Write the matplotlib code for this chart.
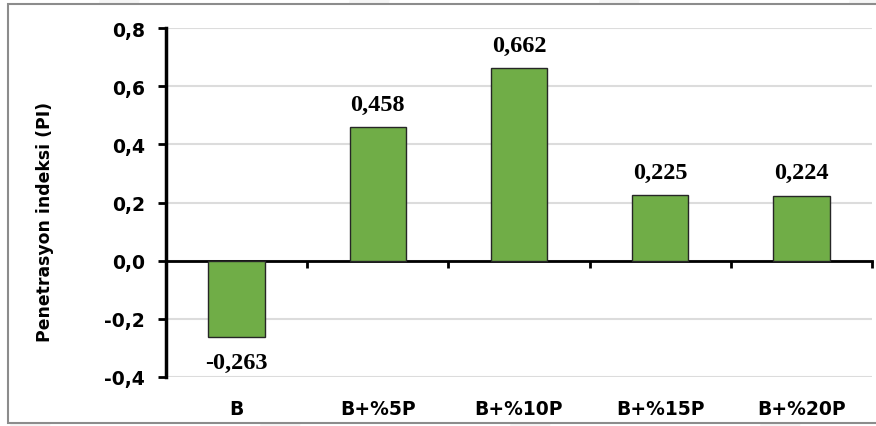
import matplotlib.pyplot as plt
import matplotlib.transforms as mtransforms
from matplotlib.patches import Rectangle, Polygon

# Datos del grafico
categorias = ["B", "B+%5P", "B+%10P", "B+%15P", "B+%20P"]
valores = [-0.263, 0.458, 0.662, 0.225, 0.224]
y_ticks = [-0.4, -0.2, 0.0, 0.2, 0.4, 0.6, 0.8]
y_label = "Penetrasyon indeksi (PI)"

W, H = 876, 427
fig = plt.figure(figsize=(W / 100, H / 100), dpi=100)

# franjas diagonales suaves del fondo
for x0 in range(-150, W + 200, 250):
    pts = [(x0, H), (x0 + 40, H), (x0 + 40 - 90, 0), (x0 - 90, 0)]
    fig.patches.append(Polygon([(px / W, py / H) for px, py in pts],
                               closed=True, transform=fig.transFigure,
                               facecolor="#f5f5f5", edgecolor="none", zorder=0))

# marco gris alrededor del grafico
fig.patches.append(Rectangle((8 / W, 3 / H), 1.0, (424 - 5) / H,
                             transform=fig.transFigure, facecolor="white",
                             edgecolor="#8c8c8c", linewidth=1.5, zorder=1))

ax = fig.add_axes([166 / W, 1 - 378 / H, (872 - 166) / W, (378 - 29) / H])
ax.set_facecolor("none")
ax.set_zorder(2)

x = list(range(len(categorias)))
ax.bar(x, valores, width=0.4, color="#70AD47", edgecolor="#262626",
       linewidth=1.0, zorder=3)

ax.set_xlim(-0.5, len(categorias) - 0.5)
ax.set_ylim(y_ticks[0], y_ticks[-1])

# cuadricula horizontal
ax.set_yticks(y_ticks)
ax.set_yticklabels([f"{t:.1f}".replace(".", ",") for t in y_ticks],
                   fontsize=13.5, fontweight="bold")
ax.yaxis.grid(True, color="#dcdcdc", linewidth=1.5, zorder=0)
ax.set_axisbelow(True)

# ejes
for s in ["top", "right"]:
    ax.spines[s].set_visible(False)
ax.spines["left"].set_linewidth(2.5)
ax.spines["bottom"].set_position(("data", 0))
ax.spines["bottom"].set_linewidth(2)
ax.set_xticks([i - 0.5 for i in range(len(categorias) + 1)])
ax.set_xticklabels([])
ax.tick_params(axis="x", direction="out", length=5, width=2)
ax.tick_params(axis="y", direction="out", length=6, width=2, pad=9)

# etiquetas de categoria debajo del grafico
trans = mtransforms.blended_transform_factory(ax.transData, ax.transAxes)
for i, c in enumerate(categorias):
    ax.text(i, -0.089, c, transform=trans, ha="center", va="center",
            fontsize=13.5, fontweight="bold")

# valores sobre las barras
for i, v in enumerate(valores):
    txt = f"{v:.3f}".replace(".", ",")
    if v >= 0:
        ax.annotate(txt, (i, v), xytext=(0, 9), textcoords="offset points",
                    ha="center", va="bottom", fontsize=17.5, fontweight="bold",
                    family="Liberation Serif")
    else:
        ax.annotate(txt, (i, v), xytext=(0, -11), textcoords="offset points",
                    ha="center", va="top", fontsize=17.5, fontweight="bold",
                    family="Liberation Serif")

fig.text(45 / W, 1 - 222 / H, y_label, rotation=90, ha="center", va="center",
         fontsize=12.4, fontweight="bold")

fig.savefig("out.png", dpi=100)
